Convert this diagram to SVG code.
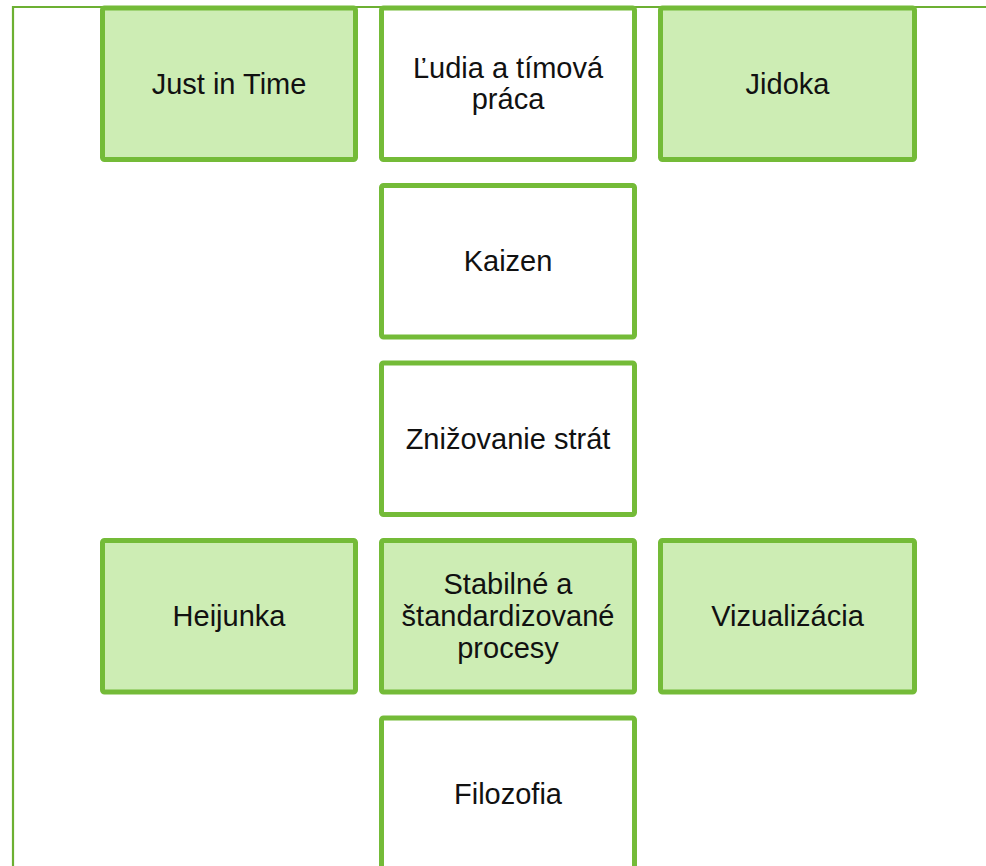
<svg xmlns="http://www.w3.org/2000/svg" width="986" height="866" viewBox="0 0 986 866">
  <style>
    .box { stroke: #74bb38; stroke-width: 5; }
    .g { fill: #cdedb4; }
    .w { fill: #ffffff; }
    .t { font-family: "Liberation Sans", Arial, sans-serif; font-size: 29px; fill: #111111; text-anchor: middle; }
    .frame { fill: none; stroke: #6cb032; stroke-width: 2.2; }
  </style>
  <rect width="986" height="866" fill="#ffffff"/>
  <g id="connectors">
    <path class="frame" d="M13,870 V7 H990"/>
  </g>
  <g id="just-in-time">
    <rect class="box g" x="102.5" y="8" width="253" height="151.5" rx="2"/>
    <text class="t" x="229" y="93.8">Just in Time</text>
  </g>
  <g id="ludia">
    <rect class="box w" x="381.5" y="8" width="253" height="151.5" rx="2"/>
    <text class="t" x="508" y="77.8">Ľudia a tímová</text>
    <text class="t" x="508" y="109.3">práca</text>
  </g>
  <g id="jidoka">
    <rect class="box g" x="660.5" y="8" width="254" height="151.5" rx="2"/>
    <text class="t" x="787.5" y="93.8">Jidoka</text>
  </g>
  <g id="kaizen">
    <rect class="box w" x="381.5" y="185.5" width="253" height="151.5" rx="2"/>
    <text class="t" x="508" y="271">Kaizen</text>
  </g>
  <g id="znizovanie">
    <rect class="box w" x="381.5" y="363" width="253" height="151.5" rx="2"/>
    <text class="t" x="508" y="448.5">Znižovanie strát</text>
  </g>
  <g id="heijunka">
    <rect class="box g" x="102.5" y="540.5" width="253" height="151.5" rx="2"/>
    <text class="t" x="229" y="626.3">Heijunka</text>
  </g>
  <g id="stabilne">
    <rect class="box g" x="381.5" y="540.5" width="253" height="151.5" rx="2"/>
    <text class="t" x="508" y="594.3">Stabilné a</text>
    <text class="t" x="508" y="626.3">štandardizované</text>
    <text class="t" x="508" y="658.3">procesy</text>
  </g>
  <g id="vizualizacia">
    <rect class="box g" x="660.5" y="540.5" width="254" height="151.5" rx="2"/>
    <text class="t" x="787.5" y="626.3">Vizualizácia</text>
  </g>
  <g id="filozofia">
    <rect class="box w" x="381.5" y="718" width="253" height="151.5" rx="2"/>
    <text class="t" x="508" y="803.8">Filozofia</text>
  </g>
</svg>
